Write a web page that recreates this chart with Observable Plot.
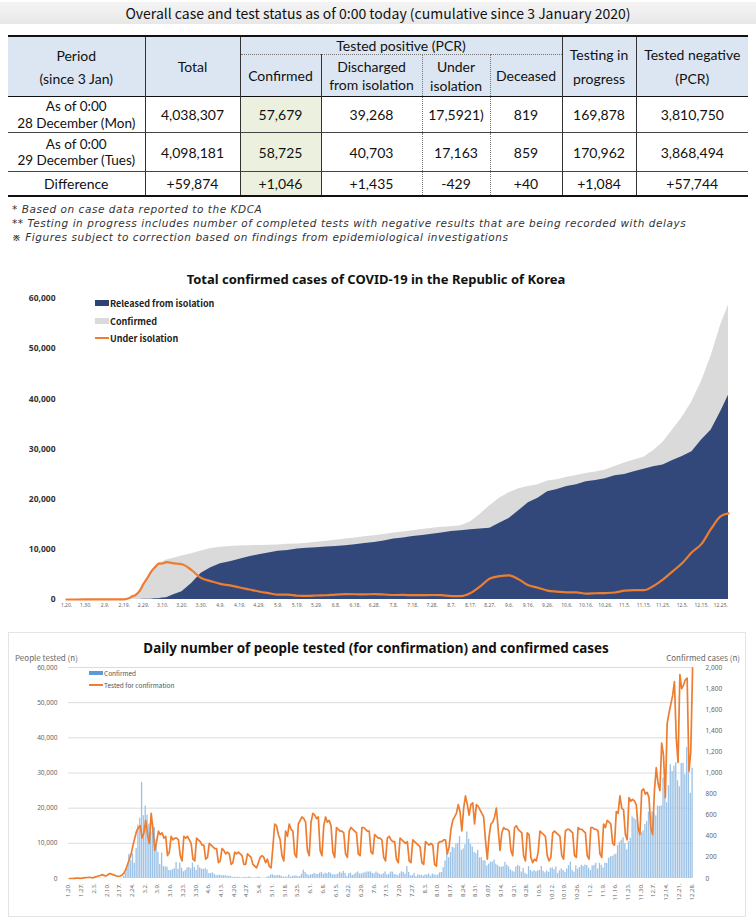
<!DOCTYPE html>
<html><head><meta charset="utf-8">
<script src="https://cdn.jsdelivr.net/npm/d3@7"></script>
<script src="https://cdn.jsdelivr.net/npm/@observablehq/plot@0.6"></script>
<style>
body{margin:0;width:756px;height:921px;position:relative;background:#fff;font-family:"Noto Sans CJK KR","Noto Sans",sans-serif;overflow:hidden;color:#111}
.abs{position:absolute}
#title{left:0;top:2px;width:756px;height:22px;background:linear-gradient(#f4f4f4,#e8e8e8);text-align:center;font-size:14px;line-height:22px;color:#111}
#tbl{left:8px;top:35px;font-family:Lato,"Noto Sans",sans-serif}
table{border-collapse:collapse;table-layout:fixed;width:740px}
td{padding:0;text-align:center;vertical-align:middle;font-size:14px;color:#111}
.hd{background:#dce6f2;font-size:14px}
.notes{left:12px;top:202px;font-family:"DejaVu Sans",sans-serif;font-style:italic;font-size:10.5px;letter-spacing:0.55px;line-height:14px;color:#333}
.ctitle{font-weight:bold;color:#111;text-align:center;white-space:nowrap}
.leg{font-weight:bold;font-size:9px;color:#222;white-space:nowrap}
.leg2{font-size:6.5px;color:#555;white-space:nowrap}
</style>
</head><body>
<div id="title" class="abs">Overall case and test status as of 0:00 today (cumulative since 3 January 2020)</div>
<div id="tbl" class="abs"></div>
<div class="abs notes" id="notes"></div>
<div id="c1" class="abs" style="left:0;top:270px"></div>
<div class="abs ctitle" style="left:0;width:752px;top:270px;font-size:13px;font-family:'Noto Sans',sans-serif">Total confirmed cases of COVID-19 in the Republic of Korea</div>
<div id="leg1"></div>
<div class="abs" style="left:8px;top:632px;width:736px;height:283px;border:1px solid #e4e4e4"></div>
<div id="c2" class="abs" style="left:8px;top:632px"></div>
<div class="abs ctitle" style="left:0;width:752px;top:639px;font-size:13.4px;font-family:'Noto Sans',sans-serif">Daily number of people tested (for confirmation) and confirmed cases</div>
<div class="abs" style="left:15px;top:652px;font-size:8px;color:#666">People tested (n)</div>
<div class="abs" style="right:16px;top:652px;font-size:8px;color:#666">Confirmed cases (n)</div>
<div id="leg2"></div>
<script>
// ---------- table data ----------
const headTop = [["Period","(since 3 Jan)"],["Total"],["Tested positive (PCR)"],["Testing in","progress"],["Tested negative","(PCR)"]];
const headSub = [["Confirmed"],["Discharged","from isolation"],["Under","isolation"],["Deceased"]];
const periods = [["As of 0:00","28 December (Mon)"],["As of 0:00","29 December (Tues)"],["Difference"]];
const totals = ["4,038,307","4,098,181","+59,874"];
const confirmedT = ["57,679","58,725","+1,046"];
const discharged = ["39,268","40,703","+1,435"];
const underIso = ["17,5921)","17,163","-429"];
const deceased = ["819","859","+40"];
const testing = ["169,878","170,962","+1,084"];
const negative = ["3,810,750","3,868,494","+57,744"];
const notes = ["* Based on case data reported to the KDCA",
 "** Testing in progress includes number of completed tests with negative results that are being recorded with delays",
 "※ Figures subject to correction based on findings from epidemiological investigations"];

// ---------- chart 1 data (cumulative) ----------
const c1Dates = ["2020-01-20","2020-01-30","2020-02-09","2020-02-18","2020-02-19","2020-02-21","2020-02-23","2020-02-25","2020-02-27","2020-02-29",
"2020-03-02","2020-03-04","2020-03-06","2020-03-08","2020-03-10","2020-03-12","2020-03-15","2020-03-20","2020-03-25","2020-03-30",
"2020-04-04","2020-04-09","2020-04-14","2020-04-19","2020-04-24","2020-04-29","2020-05-04","2020-05-09","2020-05-14","2020-05-19",
"2020-05-24","2020-05-29","2020-06-03","2020-06-08","2020-06-13","2020-06-18","2020-06-23","2020-06-28","2020-07-03","2020-07-08",
"2020-07-13","2020-07-18","2020-07-23","2020-07-28","2020-08-02","2020-08-07","2020-08-12","2020-08-17","2020-08-22","2020-08-27",
"2020-09-01","2020-09-06","2020-09-11","2020-09-16","2020-09-21","2020-09-26","2020-10-01","2020-10-06","2020-10-11","2020-10-16",
"2020-10-21","2020-10-26","2020-10-31","2020-11-05","2020-11-10","2020-11-15","2020-11-20","2020-11-25","2020-11-30","2020-12-05",
"2020-12-10","2020-12-15","2020-12-20","2020-12-25","2020-12-29"];
const c1Confirmed = [1,6,27,31,51,204,602,977,1766,3150,
4335,5621,6593,7313,7513,7869,8162,8652,9137,9661,
10156,10423,10564,10661,10718,10761,10804,10840,10991,11078,
11190,11402,11590,11814,12051,12257,12484,12715,12967,13244,
13479,13711,13938,14203,14389,14519,14714,15515,17002,18706,
20182,21296,22055,22504,22893,23611,23889,24353,24703,25108,
25424,25836,26511,27195,27799,28338,29654,31353,33824,36332,
39432,43484,48570,54770,58725];
const c1Released = [0,0,3,12,16,16,18,22,24,28,
30,41,135,130,288,333,834,1540,3166,5228,
6325,7117,7534,8042,8501,8922,9283,9610,9762,10066,
10213,10340,10467,10552,10718,10930,11172,11364,11684,12066,
12282,12553,12780,13007,13233,13543,13717,13901,14063,14219,
15198,16146,17686,19310,20158,21458,21905,22504,22863,23489,
23731,24092,24646,24935,25452,25982,26466,26825,27687,28509,
29450,31814,33800,37500,40703];
const c1Isolation = [1,6,24,19,35,186,578,945,1729,3105,
4278,5548,6416,7133,7171,7470,7253,7018,5845,4275,
3654,3102,2808,2385,1999,1592,1267,974,969,749,
711,793,850,989,1056,1047,1031,1069,1000,893,
908,864,860,896,855,672,692,1309,2630,4175,
4660,4811,4016,2821,2355,1767,1570,1428,1412,1175,
1249,1287,1401,1776,1859,1854,2690,4015,5614,7267,
9422,11084,14111,16600,17163];
const c1Ticks = ["1.20.","1.30.","2.9.","2.19.","2.29.","3.10.","3.20.","3.30.","4.9.","4.19.","4.29.","5.9.","5.19.","5.29.","6.8.","6.18.","6.28.","7.8.","7.18.","7.28.","8.7.","8.17.","8.27.","9.6.","9.16.","9.26.","10.6.","10.16.","10.26.","11.5.","11.15.","11.25.","12.5.","12.15.","12.25."];
const c1YTicks = [0,10000,20000,30000,40000,50000,60000];
const c1Legend = ["Released from isolation","Confirmed","Under isolation"];

// ---------- chart 2 data (daily, from 20 Jan, one row per week Mon..Sun) ----------
const dailyConfirmed = [
1,0,0,0,1,0,1, 0,0,0,2,5,1,3, 0,1,3,5,0,1,3, 0,0,0,0,0,0,1,
0,1,20,53,100,229,169, 231,144,284,505,571,909,595, 686,600,516,438,518,483,367,
248,131,242,114,110,107,76, 74,84,93,152,87,147,98, 64,76,100,104,91,146,105,
78,125,101,89,86,94,81, 47,47,53,39,27,30,32, 25,27,27,22,22,18,8,
13,9,11,8,6,10,10, 10,14,9,4,9,6,13, 8,3,2,4,12,18,34,
35,27,26,29,27,19,13, 15,13,32,12,20,23,25, 16,19,40,79,58,39,27,
35,38,49,39,39,51,57, 38,50,45,56,49,34,37, 34,43,59,49,67,48,17,
46,51,28,39,51,62,42, 43,50,54,63,61,63,48, 44,62,50,39,35,44,62,
33,39,61,60,39,34,26, 45,63,59,41,113,58,25, 28,48,18,36,31,30,23,
34,33,43,20,43,36,28, 34,54,56,103,166,279,197, 246,297,288,324,332,397,266,
280,320,441,371,323,299,248, 235,267,195,198,168,167,119, 136,156,155,176,136,121,109,
106,113,153,126,110,82,70, 61,110,125,114,61,95,50, 38,113,77,63,75,64,73,
75,114,69,54,72,58,97, 102,84,110,47,73,91,76, 58,91,121,155,77,61,119,
88,103,125,114,127,124,97, 75,118,125,145,89,143,126, 100,146,143,191,205,208,223,
230,313,343,363,386,330,271, 349,382,583,569,555,504,450, 438,451,511,540,629,583,631,
615,594,686,682,689,950,1030, 718,880,1078,1014,1064,1097,926, 869,1090,1092,985,1241,1132,808,
1046];
const dailyTested = [
0,0,20,60,80,100,60, 120,180,230,280,350,250,200, 400,550,700,850,1100,900,700, 1000,1400,1300,1100,900,700,600,
700,1000,1500,2500,4000,5500,7000, 9500,11500,13500,14500,15000,11500,13000, 16500,12500,10000,18500,14000,8000,10500,
13500,12500,13000,11500,12000,6500,7500, 12000,11000,11500,11500,11000,6500,5000, 12000,11500,12000,11000,10000,5500,5000,
11500,11000,10500,9500,9500,5500,6000, 10000,9500,9000,8500,8500,4500,5000, 8500,8000,7000,7500,7000,4000,4500,
7500,7000,7500,7000,6500,4000,4000, 7000,6500,6000,4000,3500,3000,4500, 6000,6500,6000,4500,5500,3500,3000,
9000,15500,15000,12500,11000,6500,5000, 13500,12000,15500,14000,13500,7000,6000, 15500,16500,17500,17000,16000,8000,6500,
16000,18500,18000,17000,17500,8000,6500, 15000,17500,16000,16500,15000,7500,6000, 14500,14000,13500,13500,13000,7000,6000,
13500,14500,14000,13500,13000,7000,6500, 14500,14500,14000,13500,13500,7500,7000, 12500,12000,11500,11500,11000,6000,5000,
11500,12000,11000,10500,10500,5500,4500, 11500,11000,10500,10000,10500,5000,4500, 11000,10500,10000,9500,9000,4500,4000,
10500,10000,9500,10000,9500,4000,3500, 10000,10500,10500,11000,11000,7000,9000, 14000,16500,17500,18500,21000,19000,13500,
20000,23500,21000,18000,21000,21500,15500, 21000,20500,19500,18500,17500,11000,5500, 12000,15500,16000,17500,20000,14000,8000,
13000,14500,14000,14000,13500,8000,6500, 14500,15000,14000,13500,13000,6500,5000, 13000,12500,6000,4500,5500,5000,7500,
13500,13000,12500,12000,6500,5000,6000, 13000,13500,13000,12500,12000,6500,5500, 13500,14000,14000,13500,13000,6500,6000,
14500,14000,14000,13500,13000,6500,5500, 14500,14500,14000,14000,13500,7000,6000, 15500,14500,16500,16000,15500,10000,9500,
19000,18500,23500,20000,19500,12500,11000, 23000,22000,22500,22000,21000,14500,12500, 25000,25500,24000,24500,23000,14500,12500,
25000,31500,27000,25000,38500,35000,23000, 44000,47000,49500,52000,56000,40000,33000, 58000,54000,55000,56500,57000,30500,36000,
59874];
const c2Ticks = ["1.20.","1.27.","2.3.","2.10.","2.17.","2.24.","3.2.","3.9.","3.16.","3.23.","3.30.","4.6.","4.13.","4.20.","4.27.","5.4.","5.11.","5.18.","5.25.","6.1.","6.8.","6.15.","6.22.","6.29.","7.6.","7.13.","7.20.","7.27.","8.3.","8.10.","8.17.","8.24.","8.31.","9.07.","9.14.","9.21.","9.28.","10.5.","10.12.","10.19.","10.26.","11.2.","11.9.","11.16.","11.23.","11.30.","12.7.","12.14.","12.21.","12.28."];
const c2LeftTicks = [0,10000,20000,30000,40000,50000,60000];
const c2RightTicks = [0,200,400,600,800,1000,1200,1400,1600,1800,2000];
const c2Legend = ["Confirmed","Tested for confirmation"];

// ---------- table ----------
(function(){
  const vs = "1px solid #333", vd = "1px dotted #777";
  const br = a => a.join("<br>");
  let h = '<table><colgroup>' + [137,95,81,101,68,72,74,112].map(w=>`<col style="width:${w}px">`).join("") + '</colgroup>';
  h += `<tr style="height:18px;border-top:2px solid #111">
   <td class="hd" rowspan="2" style="border-right:${vs};line-height:23px">${br(headTop[0])}</td>
   <td class="hd" rowspan="2" style="border-right:${vs}">${br(headTop[1])}</td>
   <td class="hd" colspan="4" style="border-right:${vs};border-bottom:${vd};line-height:17px">${br(headTop[2])}</td>
   <td class="hd" rowspan="2" style="border-right:${vs};line-height:24px">${br(headTop[3])}</td>
   <td class="hd" rowspan="2" style="line-height:24px">${br(headTop[4])}</td></tr>`;
  h += `<tr style="height:42px">
   <td class="hd" style="border-right:${vs}">${br(headSub[0])}</td>
   <td class="hd" style="border-right:${vd};line-height:17.5px">${br(headSub[1])}</td>
   <td class="hd" style="border-right:${vd};line-height:19px">${br(headSub[2])}</td>
   <td class="hd" style="border-right:${vs}">${br(headSub[3])}</td></tr>`;
  const hts = [36,39,24];
  for (let i=0;i<3;i++){
    const top = i===0 ? "border-top:1.5px solid #111;" : "border-top:1px solid #444;";
    const bot = i===2 ? "border-bottom:2px solid #111;" : "";
    const pStyle = periods[i].length>1 ? "font-size:13.5px;line-height:16.5px" : "font-size:14px";
    h += `<tr style="height:${hts[i]}px;${top}${bot}">
     <td style="border-right:${vs};${pStyle}">${br(periods[i])}</td>
     <td style="border-right:${vs}">${totals[i]}</td>
     <td style="border-right:${vs};background:#ebf1de">${confirmedT[i]}</td>
     <td style="border-right:${vd}">${discharged[i]}</td>
     <td style="border-right:${vd}">${underIso[i]}</td>
     <td style="border-right:${vs}">${deceased[i]}</td>
     <td style="border-right:${vs}">${testing[i]}</td>
     <td>${negative[i]}</td></tr>`;
  }
  h += '</table>';
  document.getElementById("tbl").innerHTML = h;
  document.getElementById("notes").innerHTML = notes.join("<br>");
})();

const toDate = s => { const [m,d] = s.split(".").map(Number); return new Date(Date.UTC(2020,m-1,d)); };
const fmt = d3.format(",");
const dom = [new Date(Date.UTC(2020,0,20)), new Date(Date.UTC(2020,11,29))];
const font = "'Noto Sans','Noto Sans CJK KR',sans-serif";

// ---------- chart 1 ----------
const c1 = c1Dates.map((d,i)=>({date:new Date(d+"T00:00:00Z"), confirmed:c1Confirmed[i], released:c1Released[i], isolation:c1Isolation[i]}));
const c1TickDates = c1Ticks.map(toDate);
const c1Lab = new Map(c1TickDates.map((d,i)=>[+d, c1Ticks[i]]));
const p1 = Plot.plot({
  width:756, height:349, marginTop:28, marginBottom:20, marginLeft:66, marginRight:28,
  style:{fontFamily:font, background:"transparent"},
  x:{type:"utc", domain:dom},
  y:{domain:[0,60000]},
  marks:[
    Plot.areaY(c1,{x:"date", y:"confirmed", fill:"#dadada"}),
    Plot.areaY(c1,{x:"date", y:"released", fill:"#33487a"}),
    Plot.lineY(c1,{x:"date", y:"isolation", stroke:"#ed7d31", strokeWidth:2.2, curve:"monotone-x"}),
    Plot.axisY({ticks:c1YTicks, tickSize:0, tickPadding:11, tickFormat:fmt, fontSize:8.5, fontWeight:"bold", fill:"#333", label:null}),
    Plot.axisX({ticks:c1TickDates, tickSize:0, tickPadding:4, tickFormat:d=>c1Lab.get(+d), fontSize:5, fill:"#666", label:null})
  ]
});
document.getElementById("c1").appendChild(p1);

// ---------- chart 2 ----------
const c2 = dailyConfirmed.map((v,i)=>({date:new Date(Date.UTC(2020,0,20+i)), confirmed:v, tested:dailyTested[i]}));
const c2TickDates = c2Ticks.map(toDate);
const c2Lab = new Map(c2TickDates.map((d,i)=>[+d, c2Ticks[i]]));
const ratio = 60000/2000;
const p2 = Plot.plot({
  width:737, height:284, marginTop:35, marginBottom:38, marginLeft:60, marginRight:52,
  style:{fontFamily:font, background:"transparent"},
  x:{type:"utc", domain:dom},
  y:{domain:[0,60000]},
  marks:[
    Plot.gridY({ticks:c2LeftTicks.slice(1), stroke:"#dcdcdc", strokeOpacity:1}),
    Plot.rectY(c2,{x1:"date", x2:d=>new Date(+d.date+864e5), y:d=>d.confirmed*ratio, fill:"#9cc2e6", insetLeft:0.25, insetRight:0.25}),
    Plot.lineY(c2,{x:d=>new Date(+d.date+432e5), y:"tested", stroke:"#ed7d31", strokeWidth:1.7}),
    Plot.axisY({anchor:"left", ticks:c2LeftTicks, tickSize:0, tickPadding:11, tickFormat:fmt, fontSize:6.5, fill:"#666", label:null}),
    Plot.axisY({anchor:"right", ticks:c2RightTicks.map(v=>v*ratio), tickSize:0, tickPadding:12, tickFormat:d=>fmt(d/ratio), fontSize:6.5, fill:"#666", label:null}),
    Plot.axisX({ticks:c2TickDates, tickSize:0, tickPadding:5, tickRotate:-90, tickFormat:d=>c2Lab.get(+d), fontSize:6, fill:"#666", label:null})
  ]
});
document.getElementById("c2").appendChild(p2);

// ---------- legends ----------
(function(){
  const L1 = document.getElementById("leg1");
  const sw1 = [["#2c4373","sq"],["#dadada","sq"],["#ed7d31","ln"]];
  const ys1 = [297,315,332];
  c1Legend.forEach((t,i)=>{
    const y = ys1[i];
    const sw = sw1[i][1]==="sq" ? `<div class="abs" style="left:95px;top:${y+3}px;width:14px;height:6px;background:${sw1[i][0]}"></div>`
                               : `<div class="abs" style="left:95px;top:${y+5}px;width:14px;height:2px;background:${sw1[i][0]}"></div>`;
    L1.insertAdjacentHTML("beforeend", sw + `<div class="abs leg" style="left:110px;top:${y}px">${t}</div>`);
  });
  const L2 = document.getElementById("leg2");
  const sw2 = [["#5b9bd5","sq"],["#ed7d31","ln"]];
  const ys2 = [668,680];
  c2Legend.forEach((t,i)=>{
    const y = ys2[i];
    const sw = sw2[i][1]==="sq" ? `<div class="abs" style="left:89px;top:${y+3}px;width:14px;height:4px;background:${sw2[i][0]}"></div>`
                               : `<div class="abs" style="left:89px;top:${y+4}px;width:14px;height:2px;background:${sw2[i][0]}"></div>`;
    L2.insertAdjacentHTML("beforeend", sw + `<div class="abs leg2" style="left:104px;top:${y}px">${t}</div>`);
  });
})();
</script>
</body></html>
